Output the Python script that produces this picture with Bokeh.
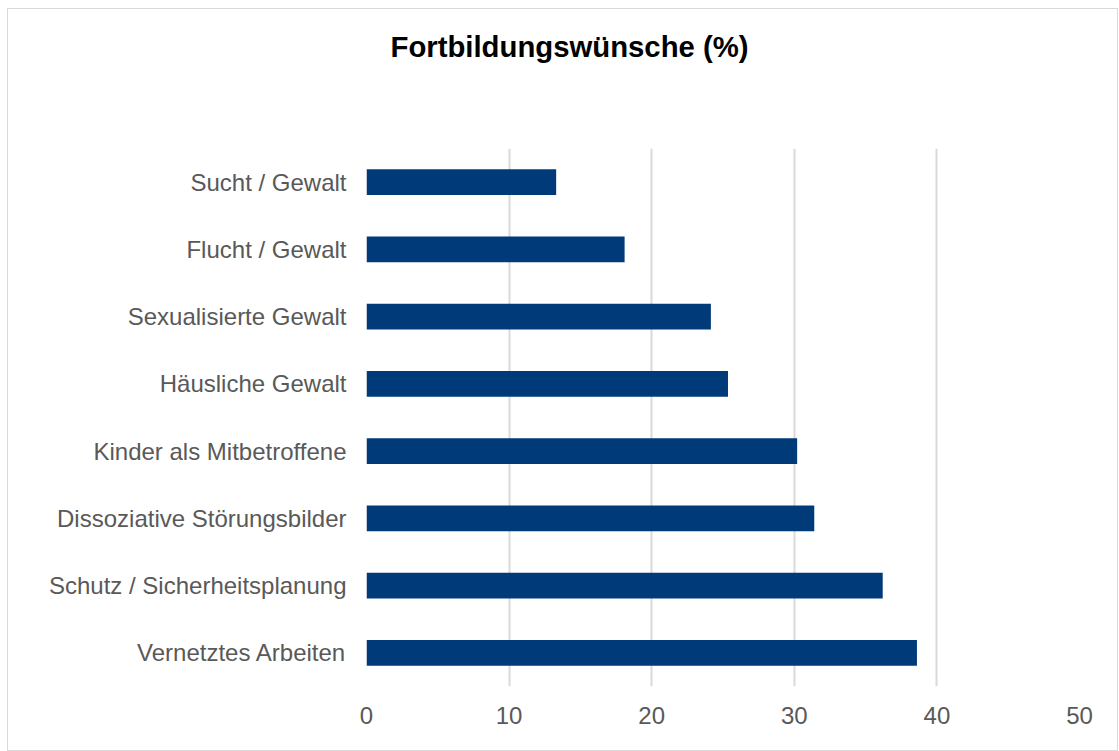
from bokeh.plotting import figure
from bokeh.models import FactorRange, Range1d, FixedTicker, Title
from bokeh.embed import file_html
from bokeh.resources import INLINE

categories = [
    "Sucht / Gewalt",
    "Flucht / Gewalt",
    "Sexualisierte Gewalt",
    "Häusliche Gewalt",
    "Kinder als Mitbetroffene",
    "Dissoziative Störungsbilder",
    "Schutz / Sicherheitsplanung",
    "Vernetztes Arbeiten",
]
values = [13.3, 18.1, 24.15, 25.35, 30.2, 31.4, 36.2, 38.6]
x_ticks = [0, 10, 20, 30, 40, 50]
title_text = "Fortbildungswünsche (%)"

FONT = "Liberation Sans"
GRAY = "#595959"

p = figure(
    width=1111, height=743,
    y_range=FactorRange(*list(reversed(categories)), range_padding=0),
    x_range=Range1d(0, 50),
    output_backend="svg", toolbar_location=None,
    min_border_left=358, min_border_right=40,
    min_border_top=139, min_border_bottom=66,
)
p.hbar(y=categories, right=values, left=0, height=0.38, color="#003A78", line_color=None)

# empty spacer panel between the plot area and the title
spacer = Title(text=" ", text_font_size="1px", standoff=83)
p.add_layout(spacer, "above")
main_title = Title(text=title_text, text_font=FONT, text_font_size="29.3px",
                   text_font_style="bold", text_color="#000000",
                   align="left", offset=24, standoff=0)
p.add_layout(main_title, "above")

p.outline_line_color = None
p.background_fill_color = "white"
p.border_fill_color = "white"
p.styles = {"border": "1.5px solid #d9d9d9", "box-sizing": "border-box",
            "margin-left": "7px", "margin-top": "8px"}

p.ygrid.grid_line_color = None
p.xgrid.grid_line_color = "#d9d9d9"
p.xgrid.grid_line_width = 2
p.xaxis.ticker = FixedTicker(ticks=x_ticks)

for ax in (p.xaxis[0], p.yaxis[0]):
    ax.axis_line_color = None
    ax.major_tick_line_color = None
    ax.major_tick_out = 0
    ax.major_tick_in = 0
    ax.minor_tick_line_color = None
    ax.major_label_text_font = FONT
    ax.major_label_text_font_size = "24px"
    ax.major_label_text_color = GRAY
p.yaxis.major_label_standoff = 20
p.xaxis.major_label_standoff = 20

open("out.html", "w").write(file_html(p, INLINE))
